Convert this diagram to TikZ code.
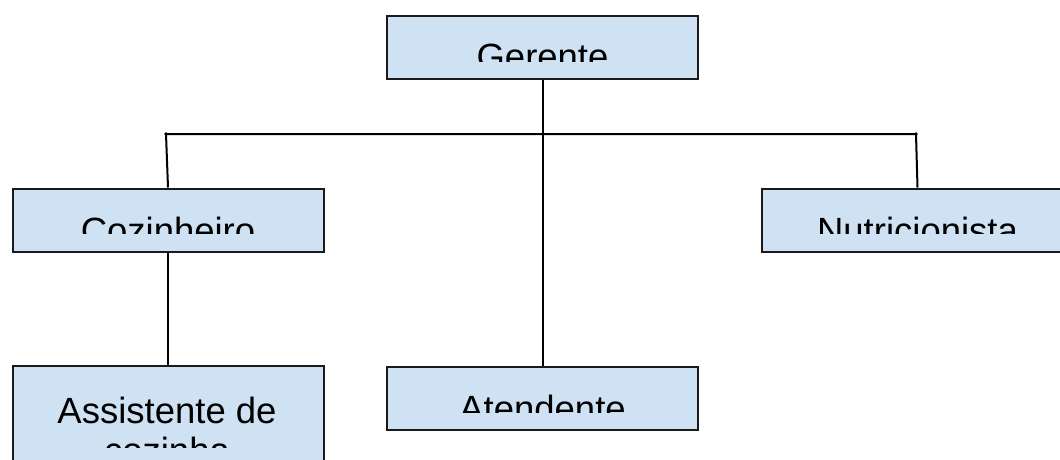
\documentclass[tikz,border=0pt]{standalone}
\usepackage{fontspec}
\setmainfont{Liberation Sans}
\definecolor{boxblue}{HTML}{CFE2F3}
\definecolor{edge}{HTML}{1A1A1A}
\begin{document}
\begin{tikzpicture}[x=1pt,y=-1pt,
  orgbox/.style={draw=edge, line width=2pt, fill=boxblue, inner sep=0pt,
                 minimum width=311pt, minimum height=63pt},
  lbl/.style={font=\fontsize{36.5}{40}\selectfont, text=black, anchor=base, inner sep=0pt},
  wire/.style={draw=black, line width=2pt}
]
\clip (0,0) rectangle (1060,459);

% boxes
\node[orgbox] (ger)  at (542.5, 47.5) {};
\node[orgbox] (coz)  at (168, 220) {};
\node[orgbox] (nut)  at (917.5, 220) {};
\node[orgbox, minimum height=110pt] (asis) at (168, 421) {};
\node[orgbox] (ate)  at (542.5, 398) {};

% connectors
\coordinate (cozj) at (166, 134);
\coordinate (nutj) at (916, 134);
\draw[wire] (ger.south) -- (ate.north);
\draw[wire] (coz.north) -- (cozj) -- (nutj) -- (nut.north);
\draw[wire] (coz.south) -- (asis.north);
\fill (cozj) circle (1.8pt);
\fill (nutj) circle (1.8pt);

% labels, cut off at the lower text margin of each box
\begin{scope}
  \clip (ger.north west) rectangle ([yshift=19pt]ger.south east);
  \node[lbl] (tger) at (542.5, 69) {Gerente};
\end{scope}
\begin{scope}
  \clip (coz.north west) rectangle ([yshift=19pt]coz.south east);
  \node[lbl] (tcoz) at (168, 243) {Cozinheiro};
\end{scope}
\begin{scope}
  \clip (nut.north west) rectangle ([yshift=19pt]nut.south east);
  \node[lbl] (tnut) at (917.5, 243) {Nutricionista};
\end{scope}
\begin{scope}
  \clip (asis.north west) rectangle (324, 447);
  \node[lbl] (tasis1) at (167, 423) {Assistente de};
  \node[lbl] (tasis2) at (167, 463) {cozinha};
\end{scope}
\begin{scope}
  \clip (ate.north west) rectangle ([yshift=18pt]ate.south east);
  \node[lbl] (tate) at (542.5, 421) {Atendente};
\end{scope}
\end{tikzpicture}
\end{document}
